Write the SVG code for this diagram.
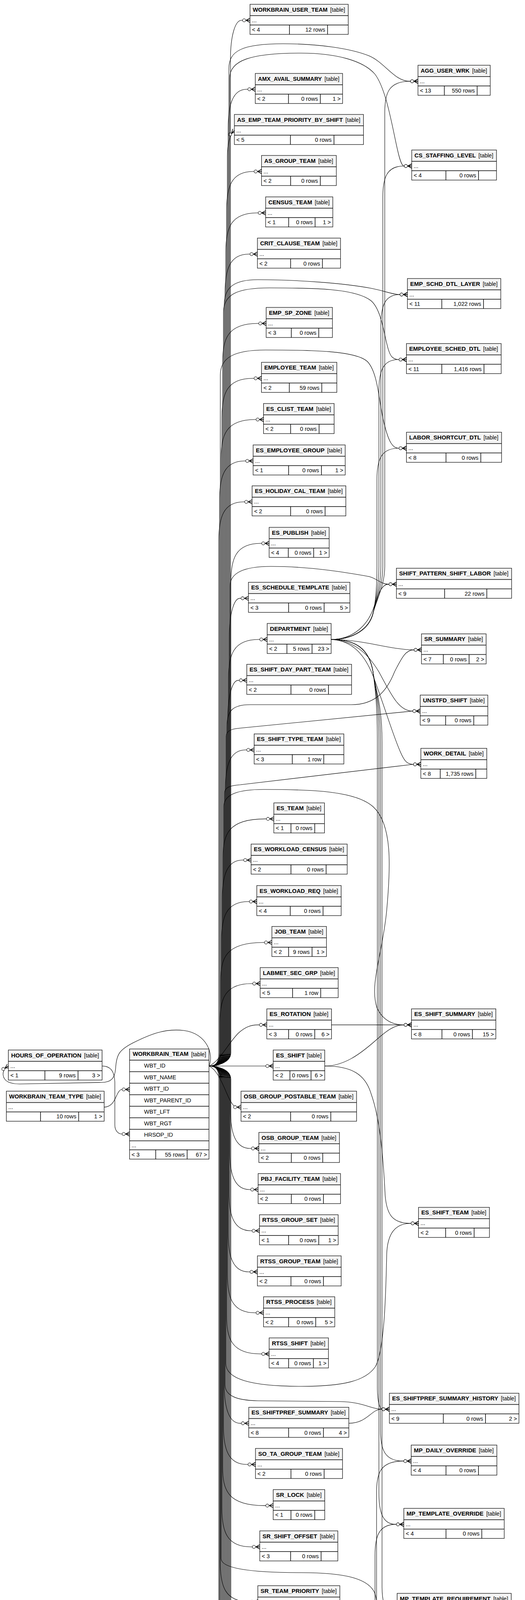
<svg xmlns="http://www.w3.org/2000/svg" width="1344" height="6146" viewBox="0 0 1344 6146">
<defs>
<style>
.bg{fill:#fff}
.hd{fill:#f4f4f4}
.sp{fill:none;stroke:#000;stroke-width:1.5}
.bx{fill:none;stroke:#000;stroke-width:1.2}
.bxt{fill:none;stroke:#000;stroke-width:3}
text{font-family:"Liberation Sans",Arial,Helvetica,sans-serif;font-size:14.5px;fill:#000}
.nm{font-weight:bold;font-size:14.7px}
.rt{text-anchor:end}
.tb{font-size:14px}
.e{fill:none;stroke:#000;stroke-width:1.1;marker-end:url(#cr)}
.t{marker-end:url(#to)}
</style>
<marker id="cr" markerUnits="userSpaceOnUse" markerWidth="26" markerHeight="18" viewBox="0 0 26 18" refX="24" refY="9" orient="auto"><path d="M14,9L24,3.5M14,9L24,14.5M14,9H24" fill="none" stroke="#000" stroke-width="1.5"/><circle cx="9" cy="9" r="4" fill="#fff" stroke="#000" stroke-width="1.1"/></marker>
<marker id="to" markerUnits="userSpaceOnUse" markerWidth="26" markerHeight="18" viewBox="0 0 26 18" refX="24" refY="9" orient="auto"><circle cx="14" cy="9" r="3.8" fill="#fff" stroke="#000" stroke-width="1.1"/><path d="M20.5,4V14" fill="none" stroke="#000" stroke-width="2.2"/></marker>
</defs>
<rect width="1344" height="6146" fill="#fff"/>
<g id="edges">
<path class="e" d="M535,2729 C552,2729 590,2722 590,2695 L590,152 C590,92 602,52 618,52 L640,52"/>
<path class="e" d="M535,2729 C552,2729 584,2722 584,2695 L584,328.5 C584,268.5 596,228.5 631.5,228.5 L653.5,228.5"/>
<path class="e" d="M535,2729 C552,2729 582,2722 582,2695 L582,400 C582,370 588,345 600,334"/>
<path class="e" d="M535,2729 C552,2729 580,2722 580,2695 L580,539 C580,479 592,439 647.5,439 L669.5,439"/>
<path class="e" d="M535,2729 C552,2729 578,2722 578,2695 L578,645 C578,585 590,545 658,545 L680,545"/>
<path class="e" d="M535,2729 C552,2729 576,2722 576,2695 L576,750.5 C576,690.5 588,650.5 637,650.5 L659,650.5"/>
<path class="e" d="M535,2729 C552,2729 570,2722 570,2695 L570,928 C570,868 582,828 659.4,828 L681.4,828"/>
<path class="e" d="M535,2729 C552,2729 568,2722 568,2695 L568,1068.5 C568,1008.5 580,968.5 647.4,968.5 L669.4,968.5"/>
<path class="e" d="M535,2729 C552,2729 566,2722 566,2695 L566,1174 C566,1114 578,1074 652.6,1074 L674.6,1074"/>
<path class="e" d="M535,2729 C552,2729 562,2722 562,2695 L562,1280 C562,1220 574,1180 626,1180 L648,1180"/>
<path class="e" d="M535,2729 C552,2729 560,2722 560,2695 L560,1384.7 C560,1324.7 572,1284.7 623.4,1284.7 L645.4,1284.7"/>
<path class="e" d="M535,2729 C552,2729 591,2722 591,2695 L591,1491 C591,1431 603,1391 667,1391 L689,1391"/>
<path class="e" d="M535,2729 C552,2729 587,2722 587,2695 L587,1631.6 C587,1571.6 599,1531.6 614,1531.6 L636,1531.6"/>
<path class="e" d="M535,2729 C552,2729 585,2722 585,2695 L585,1737 C585,1677 597,1637 662,1637 L684,1637"/>
<path class="e" d="M535,2729 C552,2729 583,2722 583,2695 L583,1841.6 C583,1781.6 595,1741.6 609.7,1741.6 L631.7,1741.6"/>
<path class="e" d="M535,2729 C552,2729 577,2722 577,2695 L577,2019.8 C577,1959.8 589,1919.8 628.6,1919.8 L650.6,1919.8"/>
<path class="e" d="M535,2729 C552,2729 571,2722 571,2695 L571,2196.4 C571,2136.4 583,2096.4 679,2096.4 L701,2096.4"/>
<path class="e" d="M535,2729 C552,2729 569,2722 569,2695 L569,2301.8 C569,2241.8 581,2201.8 620.8,2201.8 L642.8,2201.8"/>
<path class="e" d="M535,2729 C552,2729 567,2722 567,2695 L567,2408 C567,2348 579,2308 635.4,2308 L657.4,2308"/>
<path class="e" d="M535,2729 C552,2729 565,2722 565,2695 L565,2512.7 C565,2452.7 577,2412.7 674,2412.7 L696,2412.7"/>
<path class="e" d="M535,2729 C552,2729 563,2722 563,2695 L563,2618 C563,2558 575,2518 644,2518 L666,2518"/>
<path class="e" d="M535,2729 C560,2720 585,2670 610,2645 C630,2627 645,2623.6 661,2623.6 L683,2623.6"/>
<path class="e" d="M535,2729 L699.4,2729"/>
<path class="e" d="M535,2729 C552,2729 586,2722 586,2695 L586,175 C586,130 620,112 725,112 C820,112 900,125 945,143 C985,160 1010,208 1048,208 L1070,208"/>
<path class="e" d="M535,2729 C552,2729 588,2722 588,2695 L588,200 C588,155 640,136 770,136 C860,136 930,155 960,190 C990,230 1005,330 1018,385 C1024,412 1030,425 1034,425 L1054,425"/>
<path class="e" d="M535,2729 C552,2729 574,2722 574,2695 L574,780 C574,735 600,716 660,716 C760,716 880,725 950,738 C990,746 1005,754 1023,754 L1043,754"/>
<path class="e" d="M535,2729 C552,2729 572,2722 572,2695 L572,800 C572,752 610,737 690,737 C800,737 910,738 950,770 C985,800 985,900 1005,915 C1010,919 1015,920.5 1020.5,920.5 L1040.5,920.5"/>
<path class="e" d="M535,2729 C552,2729 564,2722 564,2695 L564,960 C564,915 600,896 680,896 C800,896 910,898 940,925 C970,955 970,1040 985,1090 C995,1130 1005,1147.5 1020.5,1147.5 L1040.5,1147.5"/>
<path class="e" d="M535,2729 C552,2729 589,2722 589,2695 L589,1500 C589,1468 620,1450 694,1450 C800,1450 900,1468 945,1476 C965,1481 975,1495.6 994.8,1495.6 L1014.8,1495.6"/>
<path class="e" d="M535,2729 C552,2729 581,2722 581,2695 L581,1860 C581,1820 595,1804 640,1804 L900,1804 C960,1804 990,1770 1010,1720 C1030,1680 1040,1663.6 1059,1663.6 L1079,1663.6"/>
<path class="e" d="M535,2729 C552,2729 579,2722 579,2695 L579,1885 C579,1872 590,1866 615,1864 L1055.7,1820.4 L1075.7,1820.4"/>
<path class="e" d="M535,2729 C552,2729 575,2722 575,2695 L575,2030 C575,2016 588,2011 615,2009 L1057.4,1956.7 L1077.4,1956.7"/>
<path class="e" d="M535,2729 C552,2729 573,2722 573,2695 L573,2065 C573,2033 610,2021 675,2021 C800,2021 910,2025 955,2065 C1005,2110 1000,2220 990,2330 C980,2440 945,2520 965,2580 C980,2612 1005,2623.6 1033.4,2623.6 L1053.4,2623.6"/>
<path class="e" d="M535,2729 C560,2740 575,2790 588,2815 C595,2828 600,2834.4 605,2834.4 L617,2834.4"/>
<path class="e" d="M535,2729 C552,2729 590,2736 590,2763 L590,2840 C590,2900 602,2940 640.6,2940 L662.6,2940"/>
<path class="e" d="M535,2729 C552,2729 588,2736 588,2763 L588,2945.3 C588,3005.3 600,3045.3 638.8,3045.3 L660.8,3045.3"/>
<path class="e" d="M535,2729 C552,2729 586,2736 586,2763 L586,3050.7 C586,3110.7 598,3150.7 642.3,3150.7 L664.3,3150.7"/>
<path class="e" d="M535,2729 C552,2729 584,2736 584,2763 L584,3156 C584,3216 596,3256 637,3256 L659,3256"/>
<path class="e" d="M535,2729 C552,2729 582,2736 582,2763 L582,3260.7 C582,3320.7 594,3360.7 652.6,3360.7 L674.6,3360.7"/>
<path class="e" d="M535,2729 C552,2729 580,2736 580,2763 L580,3366 C580,3426 592,3466 667,3466 L689,3466"/>
<path class="e" d="M535,2729 C552,2729 578,2736 578,2763 L578,3490 C578,3530 640,3549 771,3549 C880,3549 935,3535 960,3500 C985,3460 988,3300 990,3210 C992,3160 1010,3131.8 1051.4,3131.8 L1071.4,3131.8"/>
<path class="e" d="M535,2729 C552,2729 576,2736 576,2763 L576,3545 C576,3575 610,3585 660,3586 L870,3588 C930,3589 950,3607.6 976.8,3607.6 L996.8,3607.6"/>
<path class="e" d="M535,2729 C552,2729 574,2736 574,2763 L574,3543.6 C574,3603.6 586,3643.6 614.8,3643.6 L636.8,3643.6"/>
<path class="e" d="M535,2729 C552,2729 572,2736 572,2763 L572,3649 C572,3709 584,3749 632,3749 L654,3749"/>
<path class="e" d="M535,2729 C552,2729 570,2736 570,2763 L570,3754.4 C570,3814.4 582,3854.4 677.4,3854.4 L699.4,3854.4"/>
<path class="e" d="M535,2729 C552,2729 568,2736 568,2763 L568,3860 C568,3920 580,3960 643,3960 L665,3960"/>
<path class="e" d="M535,2729 C552,2729 566,2736 566,2763 L566,3990 C566,4015 640,4026 771,4026 C880,4026 945,4040 960,4080 C975,4130 982,4300 987,4400 C990,4470 992,4513 996,4513 L1011.4,4513"/>
<path class="e" d="M535,2729 C552,2729 564,2736 564,2763 L564,4000.4 C564,4060.4 576,4100.4 638,4100.4 L660,4100.4"/>
<path class="e" d="M535,2729 C552,2729 562,2736 562,2763 L562,4105.8 C562,4165.8 574,4205.8 653.4,4205.8 L675.4,4205.8"/>
<path class="e" d="M535,2729 C552,2729 560,2736 560,2763 L560,4212 C560,4272 572,4312 645.7,4312 L667.7,4312"/>
<path class="e" d="M535,2729 C552,2729 591,2736 591,2763 L591,4316.7 C591,4376.7 603,4416.7 652.6,4416.7 L674.6,4416.7"/>
<path class="e" d="M535,2729 C552,2729 589,2736 589,2763 L589,4422 C589,4482 601,4522 631,4522 L653,4522"/>
<path class="e" d="M535,2729 C552,2729 587,2736 587,2763 L587,4527.6 C587,4587.6 599,4627.6 662,4627.6 L684,4627.6"/>
<path class="e" d="M535,2729 C552,2729 585,2736 585,2763 L585,4633 C585,4693 597,4733 656.8,4733 L678.8,4733"/>
<path class="e" d="M535,2729 C552,2729 583,2736 583,2763 L583,4738.4 C583,4798.4 595,4838.4 610.6,4838.4 L632.6,4838.4"/>
<path class="e" d="M535,2729 C552,2729 581,2736 581,2763 L581,4844 C581,4904 593,4944 653.4,4944 L675.4,4944"/>
<path class="e" d="M535,2729 C552,2729 579,2736 579,2763 L579,4948.7 C579,5008.7 591,5048.7 640.6,5048.7 L662.6,5048.7"/>
<path class="e" d="M535,2729 C552,2729 577,2736 577,2763 L577,5054 C577,5114 589,5154 614,5154 L636,5154"/>
<path class="e" d="M535,2729 C552,2729 575,2736 575,2763 L575,5353.3 C575,5413.3 587,5453.3 635.4,5453.3 L657.4,5453.3"/>
<path class="e" d="M535,2729 C552,2729 573,2736 573,2763 L573,5458.7 C573,5518.7 585,5558.7 626.8,5558.7 L648.8,5558.7"/>
<path class="e t" d="M535,2729 C552,2729 571,2736 571,2763 L571,5564 C571,5624 583,5664 614.8,5664 L636.8,5664"/>
<path class="e t" d="M535,2729 C552,2729 569,2736 569,2763 L569,5668.7 C569,5728.7 581,5768.7 626,5768.7 L648,5768.7"/>
<path class="e" d="M535,2729 C552,2729 567,2736 567,2763 L567,5774 C567,5834 579,5874 626,5874 L648,5874"/>
<path class="e" d="M535,2729 C552,2729 565,2736 565,2763 L565,5890 C565,5940 585,5960 605,5978"/>
<path class="e" d="M535,2729 C552,2729 563,2736 563,2763 L563,5990 C563,6045 630,6092 730,6096 C840,6100 930,6070 960,6030 C990,5985 1005,5925 1042,5907.6 L1062,5907.6"/>
<path class="e" d="M535,2729 C548,2700 530,2645 470,2638 C420,2632 380,2650 340,2670 C305,2688 298,2700 296,2735 C294,2760 285,2771 260,2771 L50,2775 C25,2775 10,2768 8,2752 C7,2742 13,2734 21.4,2729"/>
<path class="e" d="M261.4,2729 C285,2729 293,2745 294,2770 L294,2880 C294,2897 305,2903 311.7,2903 L331.7,2903"/>
<path class="e" d="M266.6,2834.4 C290,2834 295,2810 302,2798 C306,2791 310,2789 311.7,2789 L331.7,2789"/>
<path class="e" d="M847.7,1637 C905,1637 945,1610 955,1570 C962,1540 985,1500 985,1450 L985,288 C985,238 995,208 1050,208 L1070,208"/>
<path class="e" d="M847.7,1637 C905,1637 945,1610 955,1570 C962,1540 980,1500 980,1450 L980,505 C980,455 990,425 1034,425 L1054,425"/>
<path class="e" d="M847.7,1637 C905,1637 945,1610 955,1570 C962,1540 975,1500 975,1450 L975,834 C975,784 985,754 1023,754 L1043,754"/>
<path class="e" d="M847.7,1637 C905,1637 945,1610 955,1570 C962,1540 970,1500 970,1450 L970,1000.5 C970,950.5 980,920.5 1020.5,920.5 L1040.5,920.5"/>
<path class="e" d="M847.7,1637 C905,1637 945,1610 955,1570 C962,1540 965,1500 965,1450 L965,1227.5 C965,1177.5 975,1147.5 1020.5,1147.5 L1040.5,1147.5"/>
<path class="e" d="M847.7,1637 C905,1637 940,1600 955,1560 C968,1525 975,1495.6 994.8,1495.6 L1014.8,1495.6"/>
<path class="e" d="M847.7,1637 C930,1637 1000,1663.6 1059,1663.6 L1079,1663.6"/>
<path class="e" d="M847.7,1637 C905,1640 940,1670 970,1720 C1000,1775 1020,1820.4 1055.7,1820.4 L1075.7,1820.4"/>
<path class="e" d="M847.7,1637 C905,1640 935,1680 955,1730 C985,1810 1005,1880 1025,1925 C1035,1948 1042,1956.7 1057.4,1956.7 L1077.4,1956.7"/>
<path class="e" d="M847.7,1637 C910,1637 945,1660 955,1720 C960,1760 966,1800 966,1900 L966,3550 C966,3590 972,3607.6 980,3607.6 L996.8,3607.6"/>
<path class="e" d="M847.7,1637 C910,1637 945,1660 955,1720 C960,1760 974,1800 974,1900 L974,3660 C974,3710 984,3740.4 1032.6,3740.4 L1052.6,3740.4"/>
<path class="e" d="M847.7,1637 C910,1637 945,1660 955,1720 C960,1760 970,1800 970,1900 L970,3822 C970,3872 980,3902.4 1013.7,3902.4 L1033.7,3902.4"/>
<path class="e" d="M847.7,1637 C910,1637 945,1660 955,1720 C960,1760 978,1800 978,1900 L978,4060 C978,4100 985,4120 996.6,4120 L1016.6,4120"/>
<path class="e" d="M855.6,5262.5 C900,5262.5 940,5240 950,5200 C958,5165 962,5120 962,5060 L962,4564.5 C962,4514.5 972,4484.5 991.4,4484.5 L1011.4,4484.5"/>
<path class="e" d="M855.6,5262.5 C900,5262.5 940,5240 950,5200 C958,5165 958,5120 958,5060 L958,4200 C958,4150 968,4120 996.6,4120 L1016.6,4120"/>
<path class="e" d="M855.6,5262.5 C900,5262.5 940,5240 950,5200 C958,5165 960,5120 960,5060 L960,3982.4 C960,3932.4 970,3902.4 1013.7,3902.4 L1033.7,3902.4"/>
<path class="e" d="M855.6,5262.5 C900,5262.5 940,5240 950,5200 C958,5165 964,5120 964,5060 L964,3820.4 C964,3770.4 974,3740.4 1032.6,3740.4 L1052.6,3740.4"/>
<path class="e" d="M855.6,5262.5 C900,5262.5 935,5240 950,5200 C965,5160 990,5125 1025.7,5125 L1045.7,5125"/>
<path class="e" d="M855.6,5262.5 C920,5262.5 960,5229.6 1003.4,5229.6 L1023.4,5229.6"/>
<path class="e" d="M855.6,5262.5 C900,5262.5 925,5285 945,5305 C962,5325 970,5336 982,5336 L1002,5336"/>
<path class="e" d="M855.6,5262.5 C905,5262.5 925,5300 935,5345 C948,5410 965,5441.3 987,5441.3 L1007,5441.3"/>
<path class="e" d="M848.6,2623.6 L1053.4,2623.6"/>
<path class="e" d="M831.4,2729 C880,2729 920,2700 960,2665 C990,2638 1010,2623.6 1033.4,2623.6 L1053.4,2623.6"/>
<path class="e" d="M831.4,2729 C900,2729 935,2750 950,2800 C975,2870 982,2980 986,3060 C990,3110 1005,3131.8 1051.4,3131.8 L1071.4,3131.8"/>
<path class="e" d="M893,3643.6 C940,3643.6 950,3607.6 976.8,3607.6 L996.8,3607.6"/>
<path class="e" d="M883.7,5768.7 C940,5768.7 960,5800 990,5850 C1015,5890 1030,5907.6 1042,5907.6 L1062,5907.6"/>
</g>
<g id="nodes">
<g id="n_WORKBRAIN_USER_TEAM" transform="translate(640,11)"><rect class="bg" width="251.5" height="77"/><rect class="hd" width="251.5" height="29"/><path class="sp" d="M0 29H251.5M0 53H251.5M101 53V77M198.5 53V77"/><rect class="bx" width="251.5" height="77"/><text class="nm" x="7" y="18.5" textLength="191.5" lengthAdjust="spacingAndGlyphs">WORKBRAIN_USER_TEAM</text><text class="rt tb" x="243.5" y="18.5">[table]</text><text x="5" y="45.5">...</text><text x="5" y="70">&lt; 4</text><text class="rt" x="192.5" y="70">12 rows</text></g>
<g id="n_AGG_USER_WRK" transform="translate(1070,167)"><rect class="bg" width="185" height="77"/><rect class="hd" width="185" height="29"/><path class="sp" d="M0 29H185M0 53H185M67.5 53V77M151.5 53V77"/><rect class="bx" width="185" height="77"/><text class="nm" x="7" y="18.5" textLength="125" lengthAdjust="spacingAndGlyphs">AGG_USER_WRK</text><text class="rt tb" x="177" y="18.5">[table]</text><text x="5" y="45.5">...</text><text x="5" y="70">&lt; 13</text><text class="rt" x="145.5" y="70">550 rows</text></g>
<g id="n_AMX_AVAIL_SUMMARY" transform="translate(653.5,188)"><rect class="bg" width="223.5" height="77"/><rect class="hd" width="223.5" height="29"/><path class="sp" d="M0 29H223.5M0 53H223.5M85 53V77M166.5 53V77"/><rect class="bx" width="223.5" height="77"/><text class="nm" x="7" y="18.5" textLength="163.5" lengthAdjust="spacingAndGlyphs">AMX_AVAIL_SUMMARY</text><text class="rt tb" x="215.5" y="18.5">[table]</text><text x="5" y="45.5">...</text><text x="5" y="70">&lt; 2</text><text class="rt" x="160.5" y="70">0 rows</text><text class="rt" x="218.5" y="70">1 &gt;</text></g>
<g id="n_AS_EMP_TEAM_PRIORITY_BY_SHIFT" transform="translate(600,293)"><rect class="bg" width="330.5" height="77"/><rect class="hd" width="330.5" height="29"/><path class="sp" d="M0 29H330.5M0 53H330.5M143.5 53V77M255 53V77"/><rect class="bx" width="330.5" height="77"/><text class="nm" x="7" y="18.5" textLength="270.5" lengthAdjust="spacingAndGlyphs">AS_EMP_TEAM_PRIORITY_BY_SHIFT</text><text class="rt tb" x="322.5" y="18.5">[table]</text><text x="5" y="45.5">...</text><text x="5" y="70">&lt; 5</text><text class="rt" x="249" y="70">0 rows</text></g>
<g id="n_CS_STAFFING_LEVEL" transform="translate(1054,384)"><rect class="bg" width="217" height="77"/><rect class="hd" width="217" height="29"/><path class="sp" d="M0 29H217M0 53H217M87.5 53V77M171 53V77"/><rect class="bx" width="217" height="77"/><text class="nm" x="7" y="18.5" textLength="157" lengthAdjust="spacingAndGlyphs">CS_STAFFING_LEVEL</text><text class="rt tb" x="209" y="18.5">[table]</text><text x="5" y="45.5">...</text><text x="5" y="70">&lt; 4</text><text class="rt" x="165" y="70">0 rows</text></g>
<g id="n_AS_GROUP_TEAM" transform="translate(669.5,398)"><rect class="bg" width="191.5" height="77"/><rect class="hd" width="191.5" height="29"/><path class="sp" d="M0 29H191.5M0 53H191.5M74.5 53V77M150.5 53V77"/><rect class="bx" width="191.5" height="77"/><text class="nm" x="7" y="18.5" textLength="131.5" lengthAdjust="spacingAndGlyphs">AS_GROUP_TEAM</text><text class="rt tb" x="183.5" y="18.5">[table]</text><text x="5" y="45.5">...</text><text x="5" y="70">&lt; 2</text><text class="rt" x="144.5" y="70">0 rows</text></g>
<g id="n_CENSUS_TEAM" transform="translate(680,504)"><rect class="bg" width="172" height="77"/><rect class="hd" width="172" height="29"/><path class="sp" d="M0 29H172M0 53H172M59 53V77M126.6 53V77"/><rect class="bx" width="172" height="77"/><text class="nm" x="7" y="18.5" textLength="112" lengthAdjust="spacingAndGlyphs">CENSUS_TEAM</text><text class="rt tb" x="164" y="18.5">[table]</text><text x="5" y="45.5">...</text><text x="5" y="70">&lt; 1</text><text class="rt" x="120.6" y="70">0 rows</text><text class="rt" x="167" y="70">1 &gt;</text></g>
<g id="n_CRIT_CLAUSE_TEAM" transform="translate(659,609.5)"><rect class="bg" width="212.7" height="77"/><rect class="hd" width="212.7" height="29"/><path class="sp" d="M0 29H212.7M0 53H212.7M85 53V77M166.4 53V77"/><rect class="bx" width="212.7" height="77"/><text class="nm" x="7" y="18.5" textLength="152.7" lengthAdjust="spacingAndGlyphs">CRIT_CLAUSE_TEAM</text><text class="rt tb" x="204.7" y="18.5">[table]</text><text x="5" y="45.5">...</text><text x="5" y="70">&lt; 2</text><text class="rt" x="160.4" y="70">0 rows</text></g>
<g id="n_EMP_SCHD_DTL_LAYER" transform="translate(1043,713)"><rect class="bg" width="239" height="77"/><rect class="hd" width="239" height="29"/><path class="sp" d="M0 29H239M0 53H239M88 53V77M194.7 53V77"/><rect class="bx" width="239" height="77"/><text class="nm" x="7" y="18.5" textLength="179" lengthAdjust="spacingAndGlyphs">EMP_SCHD_DTL_LAYER</text><text class="rt tb" x="231" y="18.5">[table]</text><text x="5" y="45.5">...</text><text x="5" y="70">&lt; 11</text><text class="rt" x="188.7" y="70">1,022 rows</text></g>
<g id="n_EMP_SP_ZONE" transform="translate(681.4,787)"><rect class="bg" width="169.6" height="77"/><rect class="hd" width="169.6" height="29"/><path class="sp" d="M0 29H169.6M0 53H169.6M64.3 53V77M134.6 53V77"/><rect class="bx" width="169.6" height="77"/><text class="nm" x="7" y="18.5" textLength="109.6" lengthAdjust="spacingAndGlyphs">EMP_SP_ZONE</text><text class="rt tb" x="161.6" y="18.5">[table]</text><text x="5" y="45.5">...</text><text x="5" y="70">&lt; 3</text><text class="rt" x="128.6" y="70">0 rows</text></g>
<g id="n_EMPLOYEE_SCHED_DTL" transform="translate(1040.5,879.5)"><rect class="bg" width="242.5" height="77"/><rect class="hd" width="242.5" height="29"/><path class="sp" d="M0 29H242.5M0 53H242.5M90.5 53V77M198.5 53V77"/><rect class="bx" width="242.5" height="77"/><text class="nm" x="7" y="18.5" textLength="182.5" lengthAdjust="spacingAndGlyphs">EMPLOYEE_SCHED_DTL</text><text class="rt tb" x="234.5" y="18.5">[table]</text><text x="5" y="45.5">...</text><text x="5" y="70">&lt; 11</text><text class="rt" x="192.5" y="70">1,416 rows</text></g>
<g id="n_EMPLOYEE_TEAM" transform="translate(669.4,927.5)"><rect class="bg" width="192.9" height="77"/><rect class="hd" width="192.9" height="29"/><path class="sp" d="M0 29H192.9M0 53H192.9M71.2 53V77M154.3 53V77"/><rect class="bx" width="192.9" height="77"/><text class="nm" x="7" y="18.5" textLength="132.9" lengthAdjust="spacingAndGlyphs">EMPLOYEE_TEAM</text><text class="rt tb" x="184.9" y="18.5">[table]</text><text x="5" y="45.5">...</text><text x="5" y="70">&lt; 2</text><text class="rt" x="148.3" y="70">59 rows</text></g>
<g id="n_ES_CLIST_TEAM" transform="translate(674.6,1033)"><rect class="bg" width="180.8" height="77"/><rect class="hd" width="180.8" height="29"/><path class="sp" d="M0 29H180.8M0 53H180.8M69.4 53V77M142.2 53V77"/><rect class="bx" width="180.8" height="77"/><text class="nm" x="7" y="18.5" textLength="120.8" lengthAdjust="spacingAndGlyphs">ES_CLIST_TEAM</text><text class="rt tb" x="172.8" y="18.5">[table]</text><text x="5" y="45.5">...</text><text x="5" y="70">&lt; 2</text><text class="rt" x="136.2" y="70">0 rows</text></g>
<g id="n_LABOR_SHORTCUT_DTL" transform="translate(1040.5,1106.5)"><rect class="bg" width="243.5" height="77"/><rect class="hd" width="243.5" height="29"/><path class="sp" d="M0 29H243.5M0 53H243.5M101.2 53V77M190.3 53V77"/><rect class="bx" width="243.5" height="77"/><text class="nm" x="7" y="18.5" textLength="183.5" lengthAdjust="spacingAndGlyphs">LABOR_SHORTCUT_DTL</text><text class="rt tb" x="235.5" y="18.5">[table]</text><text x="5" y="45.5">...</text><text x="5" y="70">&lt; 8</text><text class="rt" x="184.3" y="70">0 rows</text></g>
<g id="n_ES_EMPLOYEE_GROUP" transform="translate(648,1139)"><rect class="bg" width="235.7" height="77"/><rect class="hd" width="235.7" height="29"/><path class="sp" d="M0 29H235.7M0 53H235.7M90.8 53V77M174.8 53V77"/><rect class="bx" width="235.7" height="77"/><text class="nm" x="7" y="18.5" textLength="175.7" lengthAdjust="spacingAndGlyphs">ES_EMPLOYEE_GROUP</text><text class="rt tb" x="227.7" y="18.5">[table]</text><text x="5" y="45.5">...</text><text x="5" y="70">&lt; 1</text><text class="rt" x="168.8" y="70">0 rows</text><text class="rt" x="230.7" y="70">1 &gt;</text></g>
<g id="n_ES_HOLIDAY_CAL_TEAM" transform="translate(645.4,1243.7)"><rect class="bg" width="240" height="77"/><rect class="hd" width="240" height="29"/><path class="sp" d="M0 29H240M0 53H240M98.6 53V77M186.9 53V77"/><rect class="bx" width="240" height="77"/><text class="nm" x="7" y="18.5" textLength="180" lengthAdjust="spacingAndGlyphs">ES_HOLIDAY_CAL_TEAM</text><text class="rt tb" x="232" y="18.5">[table]</text><text x="5" y="45.5">...</text><text x="5" y="70">&lt; 2</text><text class="rt" x="180.9" y="70">0 rows</text></g>
<g id="n_ES_PUBLISH" transform="translate(689,1350)"><rect class="bg" width="153.6" height="77"/><rect class="hd" width="153.6" height="29"/><path class="sp" d="M0 29H153.6M0 53H153.6M49 53V77M114 53V77"/><rect class="bx" width="153.6" height="77"/><text class="nm" x="7" y="18.5" textLength="93.6" lengthAdjust="spacingAndGlyphs">ES_PUBLISH</text><text class="rt tb" x="145.6" y="18.5">[table]</text><text x="5" y="45.5">...</text><text x="5" y="70">&lt; 4</text><text class="rt" x="108" y="70">0 rows</text><text class="rt" x="148.6" y="70">1 &gt;</text></g>
<g id="n_SHIFT_PATTERN_SHIFT_LABOR" transform="translate(1014.8,1454.6)"><rect class="bg" width="294.9" height="77"/><rect class="hd" width="294.9" height="29"/><path class="sp" d="M0 29H294.9M0 53H294.9M123.5 53V77M231.5 53V77"/><rect class="bx" width="294.9" height="77"/><text class="nm" x="7" y="18.5" textLength="234.9" lengthAdjust="spacingAndGlyphs">SHIFT_PATTERN_SHIFT_LABOR</text><text class="rt tb" x="286.9" y="18.5">[table]</text><text x="5" y="45.5">...</text><text x="5" y="70">&lt; 9</text><text class="rt" x="225.5" y="70">22 rows</text></g>
<g id="n_ES_SCHEDULE_TEMPLATE" transform="translate(636,1490.6)"><rect class="bg" width="259.7" height="77"/><rect class="hd" width="259.7" height="29"/><path class="sp" d="M0 29H259.7M0 53H259.7M102.8 53V77M193.7 53V77"/><rect class="bx" width="259.7" height="77"/><text class="nm" x="7" y="18.5" textLength="199.7" lengthAdjust="spacingAndGlyphs">ES_SCHEDULE_TEMPLATE</text><text class="rt tb" x="251.7" y="18.5">[table]</text><text x="5" y="45.5">...</text><text x="5" y="70">&lt; 3</text><text class="rt" x="187.7" y="70">0 rows</text><text class="rt" x="254.7" y="70">5 &gt;</text></g>
<g id="n_DEPARTMENT" transform="translate(684,1596)"><rect class="bg" width="163.7" height="77"/><rect class="hd" width="163.7" height="29"/><path class="sp" d="M0 29H163.7M0 53H163.7M50.5 53V77M114.8 53V77"/><rect class="bx" width="163.7" height="77"/><text class="nm" x="7" y="18.5" textLength="103.7" lengthAdjust="spacingAndGlyphs">DEPARTMENT</text><text class="rt tb" x="155.7" y="18.5">[table]</text><text x="5" y="45.5">...</text><text x="5" y="70">&lt; 2</text><text class="rt" x="108.8" y="70">5 rows</text><text class="rt" x="158.7" y="70">23 &gt;</text></g>
<g id="n_SR_SUMMARY" transform="translate(1079,1622.6)"><rect class="bg" width="165.5" height="77"/><rect class="hd" width="165.5" height="29"/><path class="sp" d="M0 29H165.5M0 53H165.5M55.8 53V77M121.8 53V77"/><rect class="bx" width="165.5" height="77"/><text class="nm" x="7" y="18.5" textLength="105.5" lengthAdjust="spacingAndGlyphs">SR_SUMMARY</text><text class="rt tb" x="157.5" y="18.5">[table]</text><text x="5" y="45.5">...</text><text x="5" y="70">&lt; 7</text><text class="rt" x="115.8" y="70">0 rows</text><text class="rt" x="160.5" y="70">2 &gt;</text></g>
<g id="n_ES_SHIFT_DAY_PART_TEAM" transform="translate(631.7,1700.6)"><rect class="bg" width="268.3" height="77"/><rect class="hd" width="268.3" height="29"/><path class="sp" d="M0 29H268.3M0 53H268.3M113.1 53V77M209.1 53V77"/><rect class="bx" width="268.3" height="77"/><text class="nm" x="7" y="18.5" textLength="208.3" lengthAdjust="spacingAndGlyphs">ES_SHIFT_DAY_PART_TEAM</text><text class="rt tb" x="260.3" y="18.5">[table]</text><text x="5" y="45.5">...</text><text x="5" y="70">&lt; 2</text><text class="rt" x="203.1" y="70">0 rows</text></g>
<g id="n_UNSTFD_SHIFT" transform="translate(1075.7,1779.4)"><rect class="bg" width="173.1" height="77"/><rect class="hd" width="173.1" height="29"/><path class="sp" d="M0 29H173.1M0 53H173.1M65.1 53V77M137.1 53V77"/><rect class="bx" width="173.1" height="77"/><text class="nm" x="7" y="18.5" textLength="113.1" lengthAdjust="spacingAndGlyphs">UNSTFD_SHIFT</text><text class="rt tb" x="165.1" y="18.5">[table]</text><text x="5" y="45.5">...</text><text x="5" y="70">&lt; 9</text><text class="rt" x="131.1" y="70">0 rows</text></g>
<g id="n_ES_SHIFT_TYPE_TEAM" transform="translate(650.6,1878.8)"><rect class="bg" width="229.7" height="77"/><rect class="hd" width="229.7" height="29"/><path class="sp" d="M0 29H229.7M0 53H229.7M97.7 53V77M178.2 53V77"/><rect class="bx" width="229.7" height="77"/><text class="nm" x="7" y="18.5" textLength="169.7" lengthAdjust="spacingAndGlyphs">ES_SHIFT_TYPE_TEAM</text><text class="rt tb" x="221.7" y="18.5">[table]</text><text x="5" y="45.5">...</text><text x="5" y="70">&lt; 3</text><text class="rt" x="172.2" y="70">1 row</text></g>
<g id="n_WORK_DETAIL" transform="translate(1077.4,1915.7)"><rect class="bg" width="168.8" height="77"/><rect class="hd" width="168.8" height="29"/><path class="sp" d="M0 29H168.8M0 53H168.8M49.6 53V77M140.6 53V77"/><rect class="bx" width="168.8" height="77"/><text class="nm" x="7" y="18.5" textLength="108.8" lengthAdjust="spacingAndGlyphs">WORK_DETAIL</text><text class="rt tb" x="160.8" y="18.5">[table]</text><text x="5" y="45.5">...</text><text x="5" y="70">&lt; 8</text><text class="rt" x="134.6" y="70">1,735 rows</text></g>
<g id="n_ES_TEAM" transform="translate(701,2055.4)"><rect class="bg" width="129.6" height="77"/><rect class="hd" width="129.6" height="29"/><path class="sp" d="M0 29H129.6M0 53H129.6M43.8 53V77M104.7 53V77"/><rect class="bx" width="129.6" height="77"/><text class="nm" x="7" y="18.5" textLength="69.6" lengthAdjust="spacingAndGlyphs">ES_TEAM</text><text class="rt tb" x="121.6" y="18.5">[table]</text><text x="5" y="45.5">...</text><text x="5" y="70">&lt; 1</text><text class="rt" x="98.7" y="70">0 rows</text></g>
<g id="n_ES_WORKLOAD_CENSUS" transform="translate(642.8,2160.8)"><rect class="bg" width="246" height="77"/><rect class="hd" width="246" height="29"/><path class="sp" d="M0 29H246M0 53H246M102 53V77M192 53V77"/><rect class="bx" width="246" height="77"/><text class="nm" x="7" y="18.5" textLength="186" lengthAdjust="spacingAndGlyphs">ES_WORKLOAD_CENSUS</text><text class="rt tb" x="238" y="18.5">[table]</text><text x="5" y="45.5">...</text><text x="5" y="70">&lt; 2</text><text class="rt" x="186" y="70">0 rows</text></g>
<g id="n_ES_WORKLOAD_REQ" transform="translate(657.4,2267)"><rect class="bg" width="216" height="77"/><rect class="hd" width="216" height="29"/><path class="sp" d="M0 29H216M0 53H216M85.6 53V77M169.6 53V77"/><rect class="bx" width="216" height="77"/><text class="nm" x="7" y="18.5" textLength="156" lengthAdjust="spacingAndGlyphs">ES_WORKLOAD_REQ</text><text class="rt tb" x="208" y="18.5">[table]</text><text x="5" y="45.5">...</text><text x="5" y="70">&lt; 4</text><text class="rt" x="163.6" y="70">0 rows</text></g>
<g id="n_JOB_TEAM" transform="translate(696,2371.7)"><rect class="bg" width="139.7" height="77"/><rect class="hd" width="139.7" height="29"/><path class="sp" d="M0 29H139.7M0 53H139.7M42.8 53V77M102.8 53V77"/><rect class="bx" width="139.7" height="77"/><text class="nm" x="7" y="18.5" textLength="79.7" lengthAdjust="spacingAndGlyphs">JOB_TEAM</text><text class="rt tb" x="131.7" y="18.5">[table]</text><text x="5" y="45.5">...</text><text x="5" y="70">&lt; 2</text><text class="rt" x="96.8" y="70">9 rows</text><text class="rt" x="134.7" y="70">1 &gt;</text></g>
<g id="n_LABMET_SEC_GRP" transform="translate(666,2477)"><rect class="bg" width="199.7" height="77"/><rect class="hd" width="199.7" height="29"/><path class="sp" d="M0 29H199.7M0 53H199.7M83 53V77M155 53V77"/><rect class="bx" width="199.7" height="77"/><text class="nm" x="7" y="18.5" textLength="139.7" lengthAdjust="spacingAndGlyphs">LABMET_SEC_GRP</text><text class="rt tb" x="191.7" y="18.5">[table]</text><text x="5" y="45.5">...</text><text x="5" y="70">&lt; 5</text><text class="rt" x="149" y="70">1 row</text></g>
<g id="n_ES_ROTATION" transform="translate(683,2582.6)"><rect class="bg" width="165.6" height="77"/><rect class="hd" width="165.6" height="29"/><path class="sp" d="M0 29H165.6M0 53H165.6M55.8 53V77M122.7 53V77"/><rect class="bx" width="165.6" height="77"/><text class="nm" x="7" y="18.5" textLength="105.6" lengthAdjust="spacingAndGlyphs">ES_ROTATION</text><text class="rt tb" x="157.6" y="18.5">[table]</text><text x="5" y="45.5">...</text><text x="5" y="70">&lt; 3</text><text class="rt" x="116.7" y="70">0 rows</text><text class="rt" x="160.6" y="70">6 &gt;</text></g>
<g id="n_ES_SHIFT_SUMMARY" transform="translate(1053.4,2582.6)"><rect class="bg" width="216" height="77"/><rect class="hd" width="216" height="29"/><path class="sp" d="M0 29H216M0 53H216M78 53V77M156 53V77"/><rect class="bx" width="216" height="77"/><text class="nm" x="7" y="18.5" textLength="156" lengthAdjust="spacingAndGlyphs">ES_SHIFT_SUMMARY</text><text class="rt tb" x="208" y="18.5">[table]</text><text x="5" y="45.5">...</text><text x="5" y="70">&lt; 8</text><text class="rt" x="150" y="70">0 rows</text><text class="rt" x="211" y="70">15 &gt;</text></g>
<g id="n_HOURS_OF_OPERATION" transform="translate(21.4,2688)"><rect class="bg" width="240" height="77"/><rect class="hd" width="240" height="29"/><path class="sp" d="M0 29H240M0 53H240M93.5 53V77M178.3 53V77"/><rect class="bx" width="240" height="77"/><text class="nm" x="7" y="18.5" textLength="180" lengthAdjust="spacingAndGlyphs">HOURS_OF_OPERATION</text><text class="rt tb" x="232" y="18.5">[table]</text><text x="5" y="45.5">...</text><text x="5" y="70">&lt; 1</text><text class="rt" x="172.3" y="70">9 rows</text><text class="rt" x="235" y="70">3 &gt;</text></g>
<g id="n_ES_SHIFT" transform="translate(699.4,2688)"><rect class="bg" width="132" height="77"/><rect class="hd" width="132" height="29"/><path class="sp" d="M0 29H132M0 53H132M42.9 53V77M96.9 53V77"/><rect class="bx" width="132" height="77"/><text class="nm" x="7" y="18.5" textLength="74" lengthAdjust="spacingAndGlyphs">ES_SHIFT</text><text class="rt tb" x="124" y="18.5">[table]</text><text x="5" y="45.5">...</text><text x="5" y="70">&lt; 2</text><text class="rt" x="90.9" y="70">0 rows</text><text class="rt" x="127" y="70">6 &gt;</text></g>
<g id="n_WORKBRAIN_TEAM_TYPE" transform="translate(16.3,2793.4)"><rect class="bg" width="250.3" height="77"/><rect class="hd" width="250.3" height="29"/><path class="sp" d="M0 29H250.3M0 53H250.3M87.4 53V77M185.1 53V77"/><rect class="bx" width="250.3" height="77"/><text class="nm" x="7" y="18.5" textLength="190.3" lengthAdjust="spacingAndGlyphs">WORKBRAIN_TEAM_TYPE</text><text class="rt tb" x="242.3" y="18.5">[table]</text><text x="5" y="45.5">...</text><text class="rt" x="179.1" y="70">10 rows</text><text class="rt" x="245.3" y="70">1 &gt;</text></g>
<g id="n_OSB_GROUP_POSTABLE_TEAM" transform="translate(617,2793.4)"><rect class="bg" width="295.8" height="77"/><rect class="hd" width="295.8" height="29"/><path class="sp" d="M0 29H295.8M0 53H295.8M127 53V77M229.8 53V77"/><rect class="bx" width="295.8" height="77"/><text class="nm" x="7" y="18.5" textLength="235.8" lengthAdjust="spacingAndGlyphs">OSB_GROUP_POSTABLE_TEAM</text><text class="rt tb" x="287.8" y="18.5">[table]</text><text x="5" y="45.5">...</text><text x="5" y="70">&lt; 2</text><text class="rt" x="223.8" y="70">0 rows</text></g>
<g id="n_OSB_GROUP_TEAM" transform="translate(662.6,2899)"><rect class="bg" width="206.4" height="77"/><rect class="hd" width="206.4" height="29"/><path class="sp" d="M0 29H206.4M0 53H206.4M83.1 53V77M163.7 53V77"/><rect class="bx" width="206.4" height="77"/><text class="nm" x="7" y="18.5" textLength="146.4" lengthAdjust="spacingAndGlyphs">OSB_GROUP_TEAM</text><text class="rt tb" x="198.4" y="18.5">[table]</text><text x="5" y="45.5">...</text><text x="5" y="70">&lt; 2</text><text class="rt" x="157.7" y="70">0 rows</text></g>
<g id="n_PBJ_FACILITY_TEAM" transform="translate(660.8,3004.3)"><rect class="bg" width="210.9" height="77"/><rect class="hd" width="210.9" height="29"/><path class="sp" d="M0 29H210.9M0 53H210.9M84.9 53V77M167.2 53V77"/><rect class="bx" width="210.9" height="77"/><text class="nm" x="7" y="18.5" textLength="150.9" lengthAdjust="spacingAndGlyphs">PBJ_FACILITY_TEAM</text><text class="rt tb" x="202.9" y="18.5">[table]</text><text x="5" y="45.5">...</text><text x="5" y="70">&lt; 2</text><text class="rt" x="161.2" y="70">0 rows</text></g>
<g id="n_ES_SHIFT_TEAM" transform="translate(1071.4,3090.8)"><rect class="bg" width="181.6" height="77"/><rect class="hd" width="181.6" height="29"/><path class="sp" d="M0 29H181.6M0 53H181.6M69.4 53V77M142.3 53V77"/><rect class="bx" width="181.6" height="77"/><text class="nm" x="7" y="18.5" textLength="121.6" lengthAdjust="spacingAndGlyphs">ES_SHIFT_TEAM</text><text class="rt tb" x="173.6" y="18.5">[table]</text><text x="5" y="45.5">...</text><text x="5" y="70">&lt; 2</text><text class="rt" x="136.3" y="70">0 rows</text></g>
<g id="n_RTSS_GROUP_SET" transform="translate(664.3,3109.7)"><rect class="bg" width="201.4" height="77"/><rect class="hd" width="201.4" height="29"/><path class="sp" d="M0 29H201.4M0 53H201.4M74.5 53V77M151.7 53V77"/><rect class="bx" width="201.4" height="77"/><text class="nm" x="7" y="18.5" textLength="141.4" lengthAdjust="spacingAndGlyphs">RTSS_GROUP_SET</text><text class="rt tb" x="193.4" y="18.5">[table]</text><text x="5" y="45.5">...</text><text x="5" y="70">&lt; 1</text><text class="rt" x="145.7" y="70">0 rows</text><text class="rt" x="196.4" y="70">1 &gt;</text></g>
<g id="n_RTSS_GROUP_TEAM" transform="translate(659,3215)"><rect class="bg" width="214.4" height="77"/><rect class="hd" width="214.4" height="29"/><path class="sp" d="M0 29H214.4M0 53H214.4M85.8 53V77M169 53V77"/><rect class="bx" width="214.4" height="77"/><text class="nm" x="7" y="18.5" textLength="154.4" lengthAdjust="spacingAndGlyphs">RTSS_GROUP_TEAM</text><text class="rt tb" x="206.4" y="18.5">[table]</text><text x="5" y="45.5">...</text><text x="5" y="70">&lt; 2</text><text class="rt" x="163" y="70">0 rows</text></g>
<g id="n_RTSS_PROCESS" transform="translate(674.6,3319.7)"><rect class="bg" width="182.4" height="77"/><rect class="hd" width="182.4" height="29"/><path class="sp" d="M0 29H182.4M0 53H182.4M64.2 53V77M133.7 53V77"/><rect class="bx" width="182.4" height="77"/><text class="nm" x="7" y="18.5" textLength="122.4" lengthAdjust="spacingAndGlyphs">RTSS_PROCESS</text><text class="rt tb" x="174.4" y="18.5">[table]</text><text x="5" y="45.5">...</text><text x="5" y="70">&lt; 2</text><text class="rt" x="127.7" y="70">0 rows</text><text class="rt" x="177.4" y="70">5 &gt;</text></g>
<g id="n_RTSS_SHIFT" transform="translate(689,3425)"><rect class="bg" width="151.8" height="77"/><rect class="hd" width="151.8" height="29"/><path class="sp" d="M0 29H151.8M0 53H151.8M49.8 53V77M113.3 53V77"/><rect class="bx" width="151.8" height="77"/><text class="nm" x="7" y="18.5" textLength="91.8" lengthAdjust="spacingAndGlyphs">RTSS_SHIFT</text><text class="rt tb" x="143.8" y="18.5">[table]</text><text x="5" y="45.5">...</text><text x="5" y="70">&lt; 4</text><text class="rt" x="107.3" y="70">0 rows</text><text class="rt" x="146.8" y="70">1 &gt;</text></g>
<g id="n_ES_SHIFTPREF_SUMMARY_HISTORY" transform="translate(996.8,3566.6)"><rect class="bg" width="331.7" height="77"/><rect class="hd" width="331.7" height="29"/><path class="sp" d="M0 29H331.7M0 53H331.7M138 53V77M246 53V77"/><rect class="bx" width="331.7" height="77"/><text class="nm" x="7" y="18.5" textLength="271.7" lengthAdjust="spacingAndGlyphs">ES_SHIFTPREF_SUMMARY_HISTORY</text><text class="rt tb" x="323.7" y="18.5">[table]</text><text x="5" y="45.5">...</text><text x="5" y="70">&lt; 9</text><text class="rt" x="240" y="70">0 rows</text><text class="rt" x="326.7" y="70">2 &gt;</text></g>
<g id="n_ES_SHIFTPREF_SUMMARY" transform="translate(636.8,3602.6)"><rect class="bg" width="256.2" height="77"/><rect class="hd" width="256.2" height="29"/><path class="sp" d="M0 29H256.2M0 53H256.2M102 53V77M191.2 53V77"/><rect class="bx" width="256.2" height="77"/><text class="nm" x="7" y="18.5" textLength="196.2" lengthAdjust="spacingAndGlyphs">ES_SHIFTPREF_SUMMARY</text><text class="rt tb" x="248.2" y="18.5">[table]</text><text x="5" y="45.5">...</text><text x="5" y="70">&lt; 8</text><text class="rt" x="185.2" y="70">0 rows</text><text class="rt" x="251.2" y="70">4 &gt;</text></g>
<g id="n_SO_TA_GROUP_TEAM" transform="translate(654,3708)"><rect class="bg" width="222.8" height="77"/><rect class="hd" width="222.8" height="29"/><path class="sp" d="M0 29H222.8M0 53H222.8M90.8 53V77M175.7 53V77"/><rect class="bx" width="222.8" height="77"/><text class="nm" x="7" y="18.5" textLength="162.8" lengthAdjust="spacingAndGlyphs">SO_TA_GROUP_TEAM</text><text class="rt tb" x="214.8" y="18.5">[table]</text><text x="5" y="45.5">...</text><text x="5" y="70">&lt; 2</text><text class="rt" x="169.7" y="70">0 rows</text></g>
<g id="n_MP_DAILY_OVERRIDE" transform="translate(1052.6,3699.4)"><rect class="bg" width="219.4" height="77"/><rect class="hd" width="219.4" height="29"/><path class="sp" d="M0 29H219.4M0 53H219.4M89.1 53V77M172.2 53V77"/><rect class="bx" width="219.4" height="77"/><text class="nm" x="7" y="18.5" textLength="159.4" lengthAdjust="spacingAndGlyphs">MP_DAILY_OVERRIDE</text><text class="rt tb" x="211.4" y="18.5">[table]</text><text x="5" y="45.5">...</text><text x="5" y="70">&lt; 4</text><text class="rt" x="166.2" y="70">0 rows</text></g>
<g id="n_SR_LOCK" transform="translate(699.4,3813.4)"><rect class="bg" width="132" height="77"/><rect class="hd" width="132" height="29"/><path class="sp" d="M0 29H132M0 53H132M45.4 53V77M106.3 53V77"/><rect class="bx" width="132" height="77"/><text class="nm" x="7" y="18.5" textLength="72" lengthAdjust="spacingAndGlyphs">SR_LOCK</text><text class="rt tb" x="124" y="18.5">[table]</text><text x="5" y="45.5">...</text><text x="5" y="70">&lt; 1</text><text class="rt" x="100.3" y="70">0 rows</text></g>
<g id="n_MP_TEMPLATE_OVERRIDE" transform="translate(1033.7,3861.4)"><rect class="bg" width="257.1" height="77"/><rect class="hd" width="257.1" height="29"/><path class="sp" d="M0 29H257.1M0 53H257.1M108 53V77M199.7 53V77"/><rect class="bx" width="257.1" height="77"/><text class="nm" x="7" y="18.5" textLength="197.1" lengthAdjust="spacingAndGlyphs">MP_TEMPLATE_OVERRIDE</text><text class="rt tb" x="249.1" y="18.5">[table]</text><text x="5" y="45.5">...</text><text x="5" y="70">&lt; 4</text><text class="rt" x="193.7" y="70">0 rows</text></g>
<g id="n_SR_SHIFT_OFFSET" transform="translate(665,3919)"><rect class="bg" width="199.8" height="77"/><rect class="hd" width="199.8" height="29"/><path class="sp" d="M0 29H199.8M0 53H199.8M79 53V77M157 53V77"/><rect class="bx" width="199.8" height="77"/><text class="nm" x="7" y="18.5" textLength="139.8" lengthAdjust="spacingAndGlyphs">SR_SHIFT_OFFSET</text><text class="rt tb" x="191.8" y="18.5">[table]</text><text x="5" y="45.5">...</text><text x="5" y="70">&lt; 3</text><text class="rt" x="151" y="70">0 rows</text></g>
<g id="n_SR_TEAM_PRIORITY" transform="translate(660,4059.4)"><rect class="bg" width="210" height="77"/><rect class="hd" width="210" height="29"/><path class="sp" d="M0 29H210M0 53H210M84 53V77M164.5 53V77"/><rect class="bx" width="210" height="77"/><text class="nm" x="7" y="18.5" textLength="150" lengthAdjust="spacingAndGlyphs">SR_TEAM_PRIORITY</text><text class="rt tb" x="202" y="18.5">[table]</text><text x="5" y="45.5">...</text><text x="5" y="70">&lt; 2</text><text class="rt" x="158.5" y="70">0 rows</text></g>
<g id="n_MP_TEMPLATE_REQUIREMENT" transform="translate(1016.6,4079)"><rect class="bg" width="292.2" height="77"/><rect class="hd" width="292.2" height="29"/><path class="sp" d="M0 29H292.2M0 53H292.2M125.1 53V77M226.2 53V77"/><rect class="bx" width="292.2" height="77"/><text class="nm" x="7" y="18.5" textLength="232.2" lengthAdjust="spacingAndGlyphs">MP_TEMPLATE_REQUIREMENT</text><text class="rt tb" x="284.2" y="18.5">[table]</text><text x="5" y="45.5">...</text><text x="5" y="70">&lt; 4</text><text class="rt" x="220.2" y="70">0 rows</text></g>
<g id="n_ST_SKILL_TEAM" transform="translate(675.4,4164.8)"><rect class="bg" width="180" height="77"/><rect class="hd" width="180" height="29"/><path class="sp" d="M0 29H180M0 53H180M73.6 53V77M140.6 53V77"/><rect class="bx" width="180" height="77"/><text class="nm" x="7" y="18.5" textLength="120" lengthAdjust="spacingAndGlyphs">ST_SKILL_TEAM</text><text class="rt tb" x="172" y="18.5">[table]</text><text x="5" y="45.5">...</text><text x="5" y="70">&lt; 2</text><text class="rt" x="134.6" y="70">1 row</text></g>
<g id="n_ST_WBT_COURSE" transform="translate(667.7,4271)"><rect class="bg" width="194.6" height="77"/><rect class="hd" width="194.6" height="29"/><path class="sp" d="M0 29H194.6M0 53H194.6M76.3 53V77M153.3 53V77"/><rect class="bx" width="194.6" height="77"/><text class="nm" x="7" y="18.5" textLength="134.6" lengthAdjust="spacingAndGlyphs">ST_WBT_COURSE</text><text class="rt tb" x="186.6" y="18.5">[table]</text><text x="5" y="45.5">...</text><text x="5" y="70">&lt; 2</text><text class="rt" x="147.3" y="70">0 rows</text></g>
<g id="n_TARGET_DETAIL" transform="translate(674.6,4375.7)"><rect class="bg" width="182.4" height="77"/><rect class="hd" width="182.4" height="29"/><path class="sp" d="M0 29H182.4M0 53H182.4M63.4 53V77M134.4 53V77"/><rect class="bx" width="182.4" height="77"/><text class="nm" x="7" y="18.5" textLength="122.4" lengthAdjust="spacingAndGlyphs">TARGET_DETAIL</text><text class="rt tb" x="174.4" y="18.5">[table]</text><text x="5" y="45.5">...</text><text x="5" y="70">&lt; 3</text><text class="rt" x="128.4" y="70">0 rows</text><text class="rt" x="177.4" y="70">2 &gt;</text></g>
<g id="n_TEAM_DAY_PART_SET" transform="translate(653,4481)"><rect class="bg" width="225.6" height="77"/><rect class="hd" width="225.6" height="29"/><path class="sp" d="M0 29H225.6M0 53H225.6M96 53V77M175.8 53V77"/><rect class="bx" width="225.6" height="77"/><text class="nm" x="7" y="18.5" textLength="165.6" lengthAdjust="spacingAndGlyphs">TEAM_DAY_PART_SET</text><text class="rt tb" x="217.6" y="18.5">[table]</text><text x="5" y="45.5">...</text><text x="5" y="70">&lt; 2</text><text class="rt" x="169.8" y="70">1 row</text></g>
<g id="n_TEAM_RANGE" transform="translate(684,4586.6)"><rect class="bg" width="162" height="77"/><rect class="hd" width="162" height="29"/><path class="sp" d="M0 29H162M0 53H162M58.3 53V77M129.4 53V77"/><rect class="bx" width="162" height="77"/><text class="nm" x="7" y="18.5" textLength="102" lengthAdjust="spacingAndGlyphs">TEAM_RANGE</text><text class="rt tb" x="154" y="18.5">[table]</text><text x="5" y="45.5">...</text><text x="5" y="70">&lt; 3</text><text class="rt" x="123.4" y="70">2 rows</text></g>
<g id="n_TEAM_SCHPRD" transform="translate(678.8,4692)"><rect class="bg" width="173.2" height="77"/><rect class="hd" width="173.2" height="29"/><path class="sp" d="M0 29H173.2M0 53H173.2M68.6 53V77M134.6 53V77"/><rect class="bx" width="173.2" height="77"/><text class="nm" x="7" y="18.5" textLength="113.2" lengthAdjust="spacingAndGlyphs">TEAM_SCHPRD</text><text class="rt tb" x="165.2" y="18.5">[table]</text><text x="5" y="45.5">...</text><text x="5" y="70">&lt; 2</text><text class="rt" x="128.6" y="70">1 row</text></g>
<g id="n_TM_ACTITEM_ASSIGNMENT" transform="translate(632.6,4797.4)"><rect class="bg" width="265.7" height="77"/><rect class="hd" width="265.7" height="29"/><path class="sp" d="M0 29H265.7M0 53H265.7M106.2 53V77M198.8 53V77"/><rect class="bx" width="265.7" height="77"/><text class="nm" x="7" y="18.5" textLength="205.7" lengthAdjust="spacingAndGlyphs">TM_ACTITEM_ASSIGNMENT</text><text class="rt tb" x="257.7" y="18.5">[table]</text><text x="5" y="45.5">...</text><text x="5" y="70">&lt; 2</text><text class="rt" x="192.8" y="70">0 rows</text><text class="rt" x="260.7" y="70">2 &gt;</text></g>
<g id="n_TM_TASK_TEAM" transform="translate(675.4,4903)"><rect class="bg" width="180" height="77"/><rect class="hd" width="180" height="29"/><path class="sp" d="M0 29H180M0 53H180M69.4 53V77M143.2 53V77"/><rect class="bx" width="180" height="77"/><text class="nm" x="7" y="18.5" textLength="120" lengthAdjust="spacingAndGlyphs">TM_TASK_TEAM</text><text class="rt tb" x="172" y="18.5">[table]</text><text x="5" y="45.5">...</text><text x="5" y="70">&lt; 3</text><text class="rt" x="137.2" y="70">0 rows</text></g>
<g id="n_TM_TGROUP_TEAM" transform="translate(662.6,5007.7)"><rect class="bg" width="206.4" height="77"/><rect class="hd" width="206.4" height="29"/><path class="sp" d="M0 29H206.4M0 53H206.4M82.2 53V77M162.8 53V77"/><rect class="bx" width="206.4" height="77"/><text class="nm" x="7" y="18.5" textLength="146.4" lengthAdjust="spacingAndGlyphs">TM_TGROUP_TEAM</text><text class="rt tb" x="198.4" y="18.5">[table]</text><text x="5" y="45.5">...</text><text x="5" y="70">&lt; 2</text><text class="rt" x="156.8" y="70">0 rows</text></g>
<g id="n_MP_TEMPLATE_TCODE" transform="translate(1045.7,5084)"><rect class="bg" width="233.1" height="77"/><rect class="hd" width="233.1" height="29"/><path class="sp" d="M0 29H233.1M0 53H233.1M96 53V77M183.3 53V77"/><rect class="bx" width="233.1" height="77"/><text class="nm" x="7" y="18.5" textLength="173.1" lengthAdjust="spacingAndGlyphs">MP_TEMPLATE_TCODE</text><text class="rt tb" x="225.1" y="18.5">[table]</text><text x="5" y="45.5">...</text><text x="5" y="70">&lt; 2</text><text class="rt" x="177.3" y="70">0 rows</text></g>
<g id="n_UNIT_OF_SERVICE_DETAIL" transform="translate(636,5113)"><rect class="bg" width="258" height="77"/><rect class="hd" width="258" height="29"/><path class="sp" d="M0 29H258M0 53H258M108 53V77M201.4 53V77"/><rect class="bx" width="258" height="77"/><text class="nm" x="7" y="18.5" textLength="198" lengthAdjust="spacingAndGlyphs">UNIT_OF_SERVICE_DETAIL</text><text class="rt tb" x="250" y="18.5">[table]</text><text x="5" y="45.5">...</text><text x="5" y="70">&lt; 2</text><text class="rt" x="195.4" y="70">0 rows</text></g>
<g id="n_MP_ADDITIONAL_DATA_FIELD" transform="translate(1023.4,5188.6)"><rect class="bg" width="278.6" height="77"/><rect class="hd" width="278.6" height="29"/><path class="sp" d="M0 29H278.6M0 53H278.6M118.3 53V77M216 53V77"/><rect class="bx" width="278.6" height="77"/><text class="nm" x="7" y="18.5" textLength="218.6" lengthAdjust="spacingAndGlyphs">MP_ADDITIONAL_DATA_FIELD</text><text class="rt tb" x="270.6" y="18.5">[table]</text><text x="5" y="45.5">...</text><text x="5" y="70">&lt; 1</text><text class="rt" x="210" y="70">0 rows</text></g>
<g id="n_MP_TEMPLATE_GROUP_MEMBERS" transform="translate(1002,5295)"><rect class="bg" width="321.4" height="77"/><rect class="hd" width="321.4" height="29"/><path class="sp" d="M0 29H321.4M0 53H321.4M139.7 53V77M248.6 53V77"/><rect class="bx" width="321.4" height="77"/><text class="nm" x="7" y="18.5" textLength="261.4" lengthAdjust="spacingAndGlyphs">MP_TEMPLATE_GROUP_MEMBERS</text><text class="rt tb" x="313.4" y="18.5">[table]</text><text x="5" y="45.5">...</text><text x="5" y="70">&lt; 2</text><text class="rt" x="242.6" y="70">0 rows</text></g>
<g id="n_MP_TEMPLATE_SHIFT_OVERRIDE" transform="translate(1007,5400.3)"><rect class="bg" width="309.6" height="77"/><rect class="hd" width="309.6" height="29"/><path class="sp" d="M0 29H309.6M0 53H309.6M133.8 53V77M239.3 53V77"/><rect class="bx" width="309.6" height="77"/><text class="nm" x="7" y="18.5" textLength="249.6" lengthAdjust="spacingAndGlyphs">MP_TEMPLATE_SHIFT_OVERRIDE</text><text class="rt tb" x="301.6" y="18.5">[table]</text><text x="5" y="45.5">...</text><text x="5" y="70">&lt; 2</text><text class="rt" x="233.3" y="70">0 rows</text></g>
<g id="n_WB_TEAM_MESSAGE" transform="translate(657.4,5412.3)"><rect class="bg" width="216" height="77"/><rect class="hd" width="216" height="29"/><path class="sp" d="M0 29H216M0 53H216M86.6 53V77M169.6 53V77"/><rect class="bx" width="216" height="77"/><text class="nm" x="7" y="18.5" textLength="156" lengthAdjust="spacingAndGlyphs">WB_TEAM_MESSAGE</text><text class="rt tb" x="208" y="18.5">[table]</text><text x="5" y="45.5">...</text><text x="5" y="70">&lt; 1</text><text class="rt" x="163.6" y="70">0 rows</text></g>
<g id="n_WBI_FLAT_USER_TEAM" transform="translate(648.8,5517.7)"><rect class="bg" width="232.2" height="77"/><rect class="hd" width="232.2" height="29"/><path class="sp" d="M0 29H232.2M0 53H232.2M95.2 53V77M182.6 53V77"/><rect class="bx" width="232.2" height="77"/><text class="nm" x="7" y="18.5" textLength="172.2" lengthAdjust="spacingAndGlyphs">WBI_FLAT_USER_TEAM</text><text class="rt tb" x="224.2" y="18.5">[table]</text><text x="5" y="45.5">...</text><text x="5" y="70">&lt; 2</text><text class="rt" x="176.6" y="70">2 rows</text></g>
<g id="n_WBI_TEAM_SCHPRD_DATE" transform="translate(636.8,5623)"><rect class="bg" width="257.2" height="77"/><rect class="hd" width="257.2" height="29"/><path class="sp" d="M0 29H257.2M0 53H257.2M108 53V77M200.6 53V77"/><rect class="bx" width="257.2" height="77"/><text class="nm" x="7" y="18.5" textLength="197.2" lengthAdjust="spacingAndGlyphs">WBI_TEAM_SCHPRD_DATE</text><text class="rt tb" x="249.2" y="18.5">[table]</text><text x="5" y="45.5">...</text><text x="5" y="70">&lt; 1</text><text class="rt" x="194.6" y="70">0 rows</text></g>
<g id="n_SO_SCHEDULE_GROUP" transform="translate(648,5727.7)"><rect class="bg" width="235.7" height="77"/><rect class="hd" width="235.7" height="29"/><path class="sp" d="M0 29H235.7M0 53H235.7M83 53V77M171.4 53V77"/><rect class="bx" width="235.7" height="77"/><text class="nm" x="7" y="18.5" textLength="175.7" lengthAdjust="spacingAndGlyphs">SO_SCHEDULE_GROUP</text><text class="rt tb" x="227.7" y="18.5">[table]</text><text x="5" y="45.5">...</text><text x="5" y="70">&lt; 8</text><text class="rt" x="165.4" y="70">51 rows</text><text class="rt" x="230.7" y="70">59 &gt;</text></g>
<g id="n_WORK_DETAIL_ADJUST" transform="translate(648,5833)"><rect class="bg" width="234.8" height="77"/><rect class="hd" width="234.8" height="29"/><path class="sp" d="M0 29H234.8M0 53H234.8M90.8 53V77M185 53V77"/><rect class="bx" width="234.8" height="77"/><text class="nm" x="7" y="18.5" textLength="174.8" lengthAdjust="spacingAndGlyphs">WORK_DETAIL_ADJUST</text><text class="rt tb" x="226.8" y="18.5">[table]</text><text x="5" y="45.5">...</text><text x="5" y="70">&lt; 4</text><text class="rt" x="179" y="70">92 rows</text></g>
<g id="n_SO_EVENT_DETAIL" transform="translate(1062,5866.6)"><rect class="bg" width="199.7" height="77"/><rect class="hd" width="199.7" height="29"/><path class="sp" d="M0 29H199.7M0 53H199.7M72.8 53V77M174 53V77"/><rect class="bx" width="199.7" height="77"/><text class="nm" x="7" y="18.5" textLength="139.7" lengthAdjust="spacingAndGlyphs">SO_EVENT_DETAIL</text><text class="rt tb" x="191.7" y="18.5">[table]</text><text x="5" y="45.5">...</text><text x="5" y="70">&lt; 7</text><text class="rt" x="168" y="70">6 rows</text><text class="rt" x="194.7" y="70">1 &gt;</text></g>
<g id="n_WORKBRAIN_USER_LIST_MEMBER" transform="translate(605,5938.6)"><rect class="bg" width="319.8" height="77"/><rect class="hd" width="319.8" height="29"/><path class="sp" d="M0 29H319.8M0 53H319.8M139 53V77M247.8 53V77"/><rect class="bx" width="319.8" height="77"/><text class="nm" x="7" y="18.5" textLength="259.8" lengthAdjust="spacingAndGlyphs">WORKBRAIN_USER_LIST_MEMBER</text><text class="rt tb" x="311.8" y="18.5">[table]</text><text x="5" y="45.5">...</text><text x="5" y="70">&lt; 4</text><text class="rt" x="241.8" y="70">0 rows</text></g>
<g id="n_WORKBRAIN_TEAM" transform="translate(331.7,2685.4)"><rect class="bg" width="203.3" height="282"/><rect class="hd" width="203.3" height="28.5"/><path class="sp" d="M0 28.5H203.3M0 58H203.3M0 87.5H203.3M0 117H203.3M0 146.5H203.3M0 176H203.3M0 205.5H203.3M0 235H203.3M0 258H203.3M66.9 258V282M147.4 258V282"/><rect class="bx" width="203.3" height="282"/><text class="nm" x="8" y="18">WORKBRAIN_TEAM</text><text class="rt tb" x="196" y="18.5">[table]</text><text x="37" y="48">WBT_ID</text><text x="37" y="77.5">WBT_NAME</text><text x="37" y="107">WBTT_ID</text><text x="37" y="136.5">WBT_PARENT_ID</text><text x="37" y="166">WBT_LFT</text><text x="37" y="195.5">WBT_RGT</text><text x="37" y="225">HRSOP_ID</text><text x="5" y="251.5">...</text><text x="5" y="275.5">&lt; 3</text><text class="rt" x="141.4" y="275.5">55 rows</text><text class="rt" x="198.3" y="275.5">67 &gt;</text></g>
<g id="n_MP_TEMPLATE" transform="translate(674.6,5218.6)"><rect class="bg" width="181" height="165.4"/><rect class="hd" width="181" height="29.4"/><path class="sp" d="M0 29.4H181M0 58.6H181M0 87.8H181M0 117H181M0 141H181M57.6 141V165.4M130.7 141V165.4"/><rect class="bx" width="181" height="165.4"/><text class="nm" x="7" y="19">MP_TEMPLATE</text><text class="rt tb" x="173" y="19.5">[table]</text><text x="26.5" y="48.9">MPT_ID</text><text x="26.5" y="78.1">MPT_NAME</text><text x="26.5" y="107.3">MPT_END_DATE</text><text x="5" y="134">...</text><text class="rt" x="124.7" y="158.5">0 rows</text><text class="rt" x="176" y="158.5">8 &gt;</text></g>
<g id="n_MP_TEMPLATE_TEAM" transform="translate(1011.4,4409)"><rect class="bg" width="300.9" height="613"/><rect class="hd" width="300.9" height="31"/><path class="sp" d="M0 31H300.9M0 60.3H300.9M0 89.6H300.9M0 118.9H300.9M0 148.2H300.9M0 177.5H300.9M0 206.8H300.9M0 236.1H300.9M0 265.4H300.9M0 294.7H300.9M0 324H300.9M0 353.3H300.9M0 382.6H300.9M0 411.9H300.9M0 441.2H300.9M0 470.5H300.9M0 499.8H300.9M0 529.1H300.9M0 558.4H300.9M0 587.7H300.9M202.3 31V613M89.2 587.7V613"/><rect class="bxt" width="300.9" height="613"/><text class="nm" x="7" y="20">MP_TEMPLATE_TEAM</text><text class="rt tb" x="292" y="21">[table]</text>
<text x="27.4" y="50.5">MPTT_ID</text><text x="206.6" y="50.5">number[38]</text>
<text x="27.4" y="79.8">MPT_ID</text><text x="206.6" y="79.8">number[38]</text>
<text x="27.4" y="109.1">WBT_ID</text><text x="206.6" y="109.1">number[38]</text>
<text x="27.4" y="138.4">MPTT_UDF1</text><text x="206.6" y="138.4">varchar2[100]</text>
<text x="27.4" y="167.7">MPTT_UDF2</text><text x="206.6" y="167.7">varchar2[100]</text>
<text x="27.4" y="197">MPTT_UDF3</text><text x="206.6" y="197">varchar2[100]</text>
<text x="27.4" y="226.3">MPTT_UDF4</text><text x="206.6" y="226.3">varchar2[100]</text>
<text x="27.4" y="255.6">MPTT_UDF5</text><text x="206.6" y="255.6">varchar2[100]</text>
<text x="27.4" y="284.9">MPTT_VAL1</text><text x="206.6" y="284.9">number[0]</text>
<text x="27.4" y="314.2">MPTT_VAL2</text><text x="206.6" y="314.2">number[0]</text>
<text x="27.4" y="343.5">MPTT_VAL3</text><text x="206.6" y="343.5">number[0]</text>
<text x="27.4" y="372.8">MPTT_VAL4</text><text x="206.6" y="372.8">number[0]</text>
<text x="27.4" y="402.1">MPTT_VAL5</text><text x="206.6" y="402.1">number[0]</text>
<text x="27.4" y="431.4">MPTT_FLAG1</text><text x="206.6" y="431.4">varchar2[1]</text>
<text x="27.4" y="460.7">MPTT_FLAG2</text><text x="206.6" y="460.7">varchar2[1]</text>
<text x="27.4" y="490">MPTT_FLAG3</text><text x="206.6" y="490">varchar2[1]</text>
<text x="27.4" y="519.3">MPTT_FLAG4</text><text x="206.6" y="519.3">varchar2[1]</text>
<text x="27.4" y="548.6">MPTT_FLAG5</text><text x="206.6" y="548.6">varchar2[1]</text>
<text x="27.4" y="577.9">CLIENT_ID</text><text x="206.6" y="577.9">number[38]</text>
<text x="5" y="605.2">&lt; 2</text><text class="rt" x="196.3" y="605.2">0 rows</text><text class="rt" x="295.9" y="605.2">0 &gt;</text></g>
</g>
<text x="16.3" y="6130.5">Generated by SchemaSpy</text>
</svg>
